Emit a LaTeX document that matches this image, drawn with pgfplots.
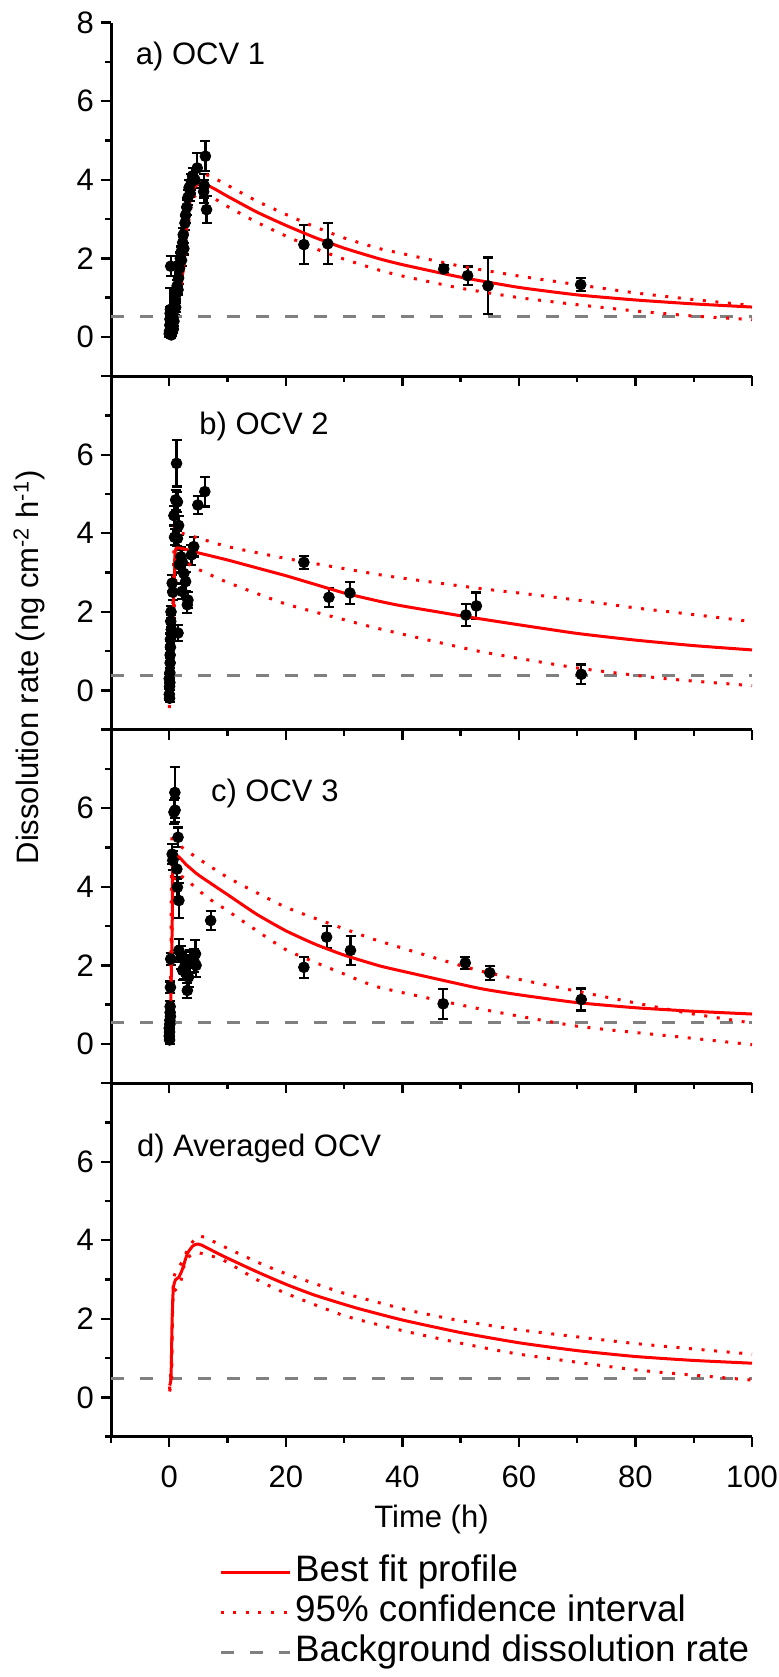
\documentclass[border=0pt]{standalone}
\usepackage{fontspec}
\setmainfont{Liberation Sans}
\usepackage{pgfplots}
\pgfplotsset{compat=1.18}

\newcommand{\fs}{\fontsize{15.5}{17}\selectfont}
\newcommand{\fl}{\fontsize{18.4}{20}\selectfont}

\pgfplotsset{
  panel/.style={
    scale only axis, width=320.5pt, height=176.75pt,
    xmin=-10, xmax=100, ymin=-1, ymax=8,
    axis x line*=bottom, axis y line*=left,
    axis line style={line width=1.5pt, -},
    tick align=outside,
    major tick length=5pt, minor tick length=3pt,
    tick style={line width=1.2pt, black},
    xtick={0,20,...,100}, minor xtick={-10,10,30,50,70,90},
    ytick={0,2,4,6,8}, minor ytick={-1,1,3,5,7},
    xticklabels={},
    tick label style={font=\fs},
    /pgf/number format/assume math mode=true,
  },
  fitline/.style={red, line width=1.5pt, smooth, tension=0.3, no markers},
  ciline/.style={red, line width=1.5pt, dash pattern=on 1.5pt off 4.8pt, smooth, tension=0.3, no markers},
  bgline/.style={gray, line width=1.6pt, dash pattern=on 6.5pt off 8pt, no markers},
  pts/.style={only marks, mark=*, mark size=2.7pt, black,
    error bars/.cd, y dir=both, y explicit,
    error bar style={line width=1.1pt, black},
    error mark options={rotate=90, mark size=2.5pt, line width=1.1pt, black}},
}
\tikzset{lab/.style={anchor=west, inner sep=0pt, font=\fs}}

\begin{document}
\begin{tikzpicture}
\useasboundingbox (0,0) rectangle (389.5pt,838.5pt);

% a) OCV 1
\begin{axis}[panel, name=pa, at={(55.5pt,827.15pt)}, anchor=north west]
\addplot[pts] coordinates {
(0.0,0.08) +- (0,0.08) (0.05,0.15) +- (0,0.1) (0.1,0.3) +- (0,0.1)
(0.12,0.45) +- (0,0.12) (0.15,0.6) +- (0,0.15) (0.2,0.7) +- (0,0.55)
(0.25,1.8) +- (0,0.25) (0.3,0.25) +- (0,0.1) (0.35,0.05) +- (0,0.08)
(0.45,0.12) +- (0,0.1) (0.55,0.35) +- (0,0.1) (0.6,0.5) +- (0,0.12)
(0.7,0.2) +- (0,0.1) (0.8,0.4) +- (0,0.12) (0.9,0.7) +- (0,0.15)
(1.0,0.9) +- (0,0.15) (1.1,0.75) +- (0,0.12) (1.2,1.1) +- (0,0.15)
(1.35,1.3) +- (0,0.15) (1.5,1.2) +- (0,0.12) (1.6,1.5) +- (0,0.15)
(1.75,1.75) +- (0,0.15) (1.9,2.0) +- (0,0.15) (2.0,2.15) +- (0,0.15)
(2.1,1.95) +- (0,0.15) (2.3,2.4) +- (0,0.15) (2.4,2.6) +- (0,0.18)
(2.5,2.25) +- (0,0.15) (2.7,2.9) +- (0,0.18) (2.8,3.1) +- (0,0.2)
(3.0,3.3) +- (0,0.2) (3.2,3.55) +- (0,0.2) (3.4,3.8) +- (0,0.2)
(3.6,3.65) +- (0,0.2) (3.8,3.95) +- (0,0.2) (4.0,4.1) +- (0,0.2)
(4.4,4.0) +- (0,0.2) (4.8,4.3) +- (0,0.38) (5.9,3.7) +- (0,0.3)
(6.0,3.85) +- (0,0.3) (6.2,4.6) +- (0,0.38) (6.4,3.24) +- (0,0.34)
(23.1,2.35) +- (0,0.49) (27.2,2.37) +- (0,0.52) (47.1,1.73) +- (0,0.1)
(51.2,1.56) +- (0,0.23) (54.7,1.3) +- (0,0.72) (70.6,1.33) +- (0,0.17)
};
\addplot[bgline] coordinates {(-10,0.51) (100,0.51)};
\addplot[ciline] coordinates {(0.5,0.6) (1,0.9) (2,1.6) (3,3.0) (4,3.95) (5,4.15) (6,4.15) (8,4.02) (10,3.86) (15,3.46) (20,3.12) (25,2.8) (30,2.52) (36,2.25) (40,2.12) (50,1.8) (60,1.55) (70,1.33) (80,1.12) (90,0.95) (100,0.8)};
\addplot[ciline] coordinates {(0.5,0.4) (1,0.7) (2,1.2) (3,2.6) (4,3.5) (5,3.65) (6,3.65) (8,3.5) (10,3.32) (15,2.92) (20,2.57) (25,2.25) (30,1.98) (36,1.7) (40,1.55) (50,1.24) (60,1.0) (70,0.82) (80,0.66) (90,0.53) (100,0.44)};
\addplot[fitline] coordinates {(0.5,0.5) (1,0.8) (2,1.4) (2.5,1.8) (3,2.8) (3.5,3.4) (4,3.75) (5,3.9) (6,3.9) (8,3.75) (10,3.58) (15,3.18) (20,2.84) (25,2.53) (30,2.26) (36,1.99) (40,1.84) (50,1.52) (60,1.26) (70,1.07) (80,0.94) (90,0.84) (100,0.76)};
\node[lab] at (axis cs:-5.8,7.13) {a) OCV 1};
\end{axis}

% b) OCV 2
\begin{axis}[panel, name=pb, at={(pa.south west)}, anchor=north west, yticklabels={0,2,4,6,{}}]
\addplot[pts] coordinates {
(0.0,0.3) +- (0,0.12) (0.0,-0.1) +- (0,0.15) (0.05,-0.2) +- (0,0.1)
(0.05,0.1) +- (0,0.1) (0.1,0.45) +- (0,0.12) (0.1,0.2) +- (0,0.1)
(0.15,0.7) +- (0,0.12) (0.15,0.9) +- (0,0.15) (0.2,1.1) +- (0,0.15)
(0.2,1.3) +- (0,0.15) (0.25,1.76) +- (0,0.15) (0.3,2.0) +- (0,0.15)
(0.35,1.55) +- (0,0.15) (0.5,2.73) +- (0,0.2) (0.6,2.5) +- (0,0.2)
(0.8,4.45) +- (0,0.25) (0.9,3.9) +- (0,0.2) (1.1,4.85) +- (0,0.25)
(1.25,5.78) +- (0,0.59) (1.4,4.8) +- (0,0.25) (1.4,3.87) +- (0,0.2)
(1.5,1.46) +- (0,0.2) (1.6,4.2) +- (0,0.25) (1.7,3.2) +- (0,0.2)
(2.0,3.4) +- (0,0.25) (2.2,3.28) +- (0,0.3) (2.2,2.52) +- (0,0.2)
(2.5,2.98) +- (0,0.25) (2.8,2.77) +- (0,0.25) (3.1,2.18) +- (0,0.2)
(3.2,2.3) +- (0,0.2) (3.8,3.45) +- (0,0.25) (4.2,3.66) +- (0,0.25)
(4.9,4.72) +- (0,0.23) (6.1,5.06) +- (0,0.38)
(23.1,3.26) +- (0,0.17) (27.4,2.37) +- (0,0.24) (31.0,2.48) +- (0,0.28)
(50.9,1.92) +- (0,0.28) (52.7,2.15) +- (0,0.34) (70.7,0.41) +- (0,0.25)
};
\addplot[bgline] coordinates {(-10,0.38) (100,0.38)};
\addplot[ciline] coordinates {(0.3,0.6) (0.6,2.0) (0.9,4.3) (1.3,4.05) (5,3.88) (10,3.66) (20,3.36) (30,3.1) (38,2.9) (53,2.6) (60,2.48) (70,2.3) (80,2.1) (90,1.93) (100,1.75)};
\addplot[ciline] coordinates {(0,-0.45) (0.5,0.8) (1.0,2.5) (1.6,3.4) (4,3.15) (10,2.75) (20,2.2) (30,1.8) (36,1.57) (53,1.0) (70,0.57) (85,0.3) (100,0.12)};
\addplot[fitline] coordinates {(0.3,0.37) (0.6,1.5) (0.9,3.0) (1.2,3.62) (5,3.5) (10,3.32) (15,3.12) (20,2.92) (25,2.7) (30,2.48) (36,2.27) (40,2.15) (50,1.9) (53,1.83) (60,1.67) (70,1.45) (80,1.28) (90,1.14) (100,1.03)};
\node[lab] at (axis cs:5.1,6.72) {b) OCV 2};
\end{axis}

% c) OCV 3
\begin{axis}[panel, name=pc, at={(pb.south west)}, anchor=north west, yticklabels={0,2,4,6,{}}]
\addplot[pts] coordinates {
(0.0,0.2) +- (0,0.1) (0.0,0.4) +- (0,0.1) (0.05,0.1) +- (0,0.1)
(0.05,0.3) +- (0,0.12) (0.1,0.5) +- (0,0.12) (0.1,0.6) +- (0,0.15)
(0.15,0.8) +- (0,0.15) (0.15,0.95) +- (0,0.15) (0.2,0.7) +- (0,0.12)
(0.2,1.44) +- (0,0.15) (0.25,2.16) +- (0,0.15) (0.5,4.83) +- (0,0.25)
(0.6,4.67) +- (0,0.25) (0.8,5.9) +- (0,0.3) (0.96,6.4) +- (0,0.65)
(1.0,5.95) +- (0,0.3) (1.3,4.45) +- (0,0.25) (1.4,3.99) +- (0,0.25)
(1.5,5.26) +- (0,0.25) (1.65,3.65) +- (0,0.45) (1.65,2.38) +- (0,0.3)
(2.0,2.2) +- (0,0.3) (2.3,1.87) +- (0,0.25) (2.6,1.95) +- (0,0.3)
(2.8,2.04) +- (0,0.3) (3.1,1.36) +- (0,0.2) (3.3,1.7) +- (0,0.25)
(3.6,2.1) +- (0,0.3) (4.2,2.12) +- (0,0.3) (4.5,2.29) +- (0,0.35)
(4.6,2.0) +- (0,0.3) (7.1,3.14) +- (0,0.25)
(23.1,1.95) +- (0,0.27) (27.0,2.72) +- (0,0.28) (31.1,2.38) +- (0,0.37)
(47.0,1.02) +- (0,0.38) (50.8,2.06) +- (0,0.15) (55.0,1.81) +- (0,0.18)
(70.7,1.13) +- (0,0.28)
};
\addplot[bgline] coordinates {(-10,0.55) (100,0.55)};
\addplot[ciline] coordinates {(0.1,0.05) (0.3,2.5) (0.5,5.34) (2.2,5.0) (10,4.24) (20,3.48) (30,2.93) (36,2.62) (53,1.87) (70,1.34) (88,0.81) (100,0.53)};
\addplot[ciline] coordinates {(0.1,0.0) (0.5,3.0) (1.1,4.33) (6.5,3.73) (10,3.39) (20,2.4) (30,1.78) (36,1.44) (53,0.9) (70,0.45) (88,0.17) (100,-0.02)};
\addplot[fitline] coordinates {(0.1,0.3) (0.2,0.6) (0.5,3.0) (0.7,4.8) (3,4.55) (5,4.3) (10,3.8) (15,3.3) (20,2.88) (25,2.54) (30,2.26) (36,1.99) (40,1.85) (53,1.42) (60,1.25) (70,1.05) (80,0.92) (90,0.83) (100,0.76)};
\node[lab] at (axis cs:7.1,6.38) {c) OCV 3};
\end{axis}

% d) Averaged OCV
\begin{axis}[panel, name=pd, at={(pc.south west)}, anchor=north west, yticklabels={0,2,4,6,{}},
  xticklabels={0,20,40,60,80,100},
  xticklabel style={yshift=-6pt},
  xlabel={Time (h)}, xlabel style={font=\fs, yshift=-2pt},
  legend style={at={(0.168,-0.326)}, anchor=north west, draw=none, fill=none, inner sep=0pt,
    font=\fl, row sep=0pt, nodes={text height=12.8pt, text depth=4pt, inner sep=1.6pt}},
  legend cell align=left,
  legend image code/.code={\draw[#1] (0pt,0pt) -- (34.8pt,0pt);}]
\addplot[bgline, forget plot] coordinates {(-10,0.48) (100,0.48)};
\addplot[fitline] coordinates {(0.05,0.3) (0.3,0.5) (0.5,2.0) (0.7,2.8) (1.1,3.0) (1.6,3.05) (2.2,3.24) (3.1,3.66) (4,3.85) (4.7,3.9) (5.5,3.88) (9.2,3.6) (15,3.2) (20,2.88) (25,2.6) (32,2.28) (40,1.97) (50,1.65) (60,1.39) (70,1.19) (80,1.04) (90,0.94) (100,0.87)};
\addlegendentry{Best fit profile}
\addplot[ciline] coordinates {(0.05,0.2) (0.4,0.95) (0.7,2.9) (1.1,3.2) (2,3.4) (3.4,3.83) (4.8,4.1) (6,4.08) (9.2,3.85) (15,3.45) (20,3.15) (30,2.65) (41,2.22) (50,1.95) (60,1.72) (80,1.37) (100,1.1)};
\addlegendentry{95\% confidence interval}
\addplot[ciline, forget plot] coordinates {(0.05,0.15) (0.4,0.5) (0.6,2.56) (1.9,2.9) (2.8,3.5) (4.5,3.68) (6,3.65) (9.2,3.5) (15,3.0) (20,2.65) (30,2.08) (40,1.7) (50,1.38) (60,1.1) (80,0.7) (100,0.44)};
\addlegendimage{bgline}
\addlegendentry{Background dissolution rate}
\node[lab] at (axis cs:-5.6,6.34) {d) Averaged OCV};
\end{axis}

\node[rotate=90, font=\fs] at (14.7pt,504.8pt) {Dissolution rate (ng cm\textsuperscript{-2} h\textsuperscript{-1})};
\end{tikzpicture}
\end{document}
